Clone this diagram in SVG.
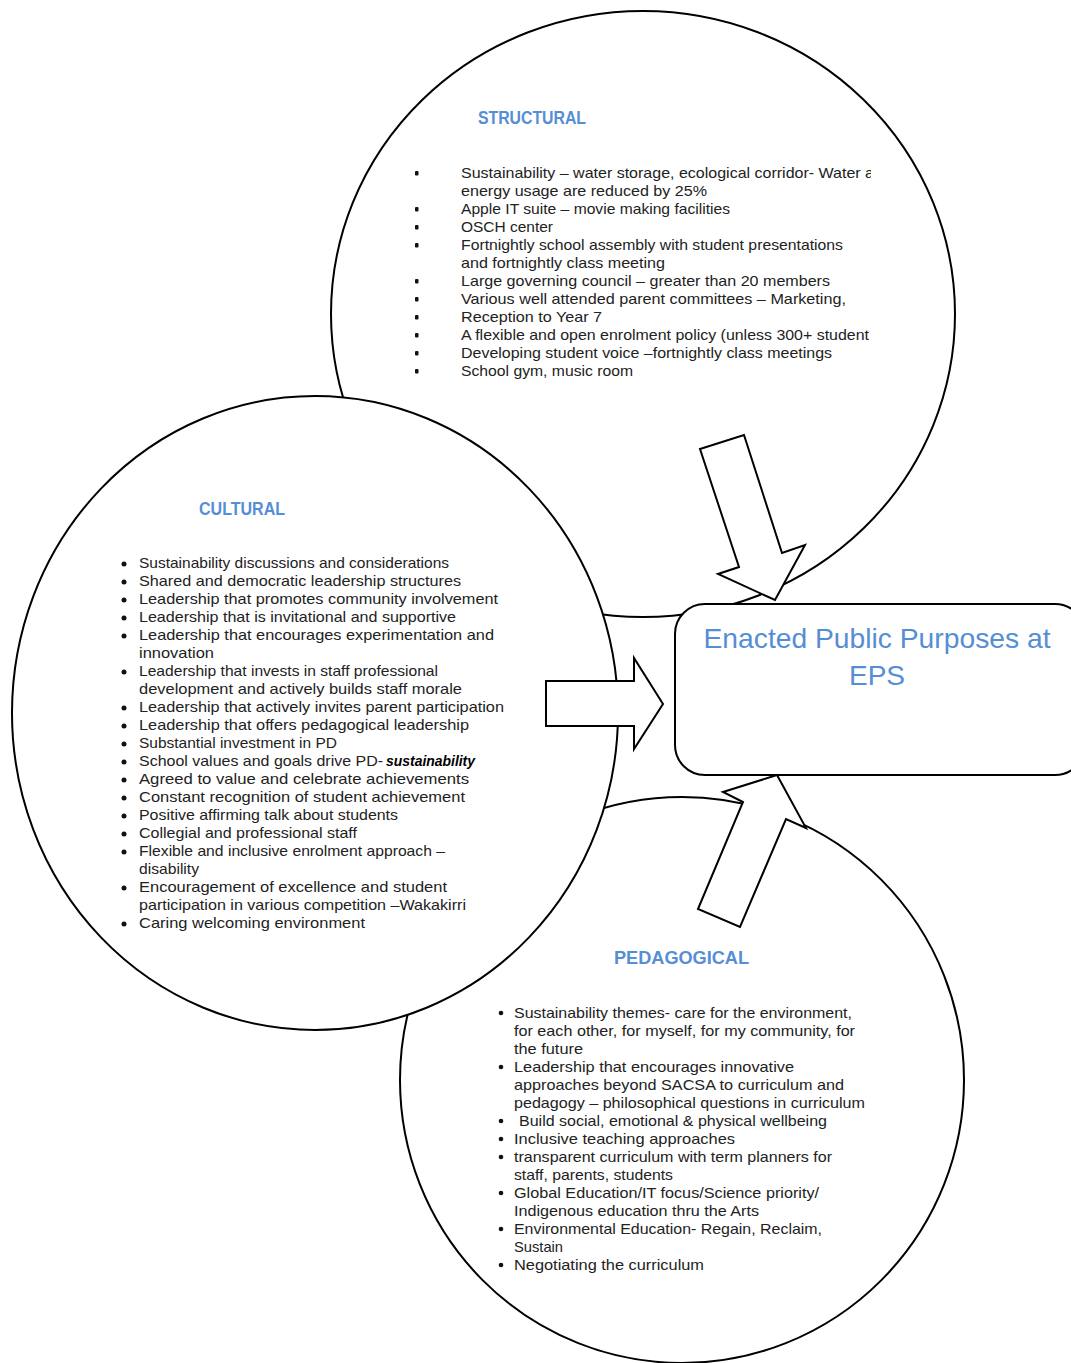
<svg xmlns="http://www.w3.org/2000/svg" width="1071" height="1363" viewBox="0 0 1071 1363">
<style>
.c{fill:#fff;stroke:#000;stroke-width:2}
.h{font-family:"Liberation Sans",Arial,sans-serif;font-weight:bold;font-size:18px;fill:#558ED5}
.t{font-family:"Liberation Sans",Arial,sans-serif;font-size:14.8px;fill:#222}
.ttl{font-family:"Liberation Sans",Arial,sans-serif;font-size:28px;fill:#558ED5;text-anchor:middle}
.b{fill:#111}
.ar{fill:#fff;stroke:#000;stroke-width:2;stroke-linejoin:miter}
</style>
<defs>
<clipPath id="clipS"><rect x="400" y="100" width="471" height="300"/></clipPath>
</defs>
<rect width="1071" height="1363" fill="#fff"/>

<g id="pedagogical">
<ellipse class="c" cx="682" cy="1080" rx="282" ry="283"/>
<text class="h" x="614" y="964" textLength="135" lengthAdjust="spacingAndGlyphs">PEDAGOGICAL</text>
<g class="b">
<circle cx="501" cy="1013" r="2.3"/><circle cx="501" cy="1067" r="2.3"/><circle cx="501" cy="1121" r="2.3"/><circle cx="501" cy="1139" r="2.3"/><circle cx="501" cy="1157" r="2.3"/><circle cx="501" cy="1193" r="2.3"/><circle cx="501" cy="1229" r="2.3"/><circle cx="501" cy="1265" r="2.3"/>
</g>
<g class="t">
<text x="514" y="1018" textLength="338" lengthAdjust="spacingAndGlyphs">Sustainability themes- care for the environment,</text>
<text x="514" y="1036" textLength="341" lengthAdjust="spacingAndGlyphs">for each other, for myself, for my community, for</text>
<text x="514" y="1054" textLength="69" lengthAdjust="spacingAndGlyphs">the future</text>
<text x="514" y="1072" textLength="280" lengthAdjust="spacingAndGlyphs">Leadership that encourages innovative</text>
<text x="514" y="1090" textLength="330" lengthAdjust="spacingAndGlyphs">approaches beyond SACSA to curriculum and</text>
<text x="514" y="1108" textLength="351" lengthAdjust="spacingAndGlyphs">pedagogy – philosophical questions in curriculum</text>
<text x="519" y="1126" textLength="308" lengthAdjust="spacingAndGlyphs">Build social, emotional &amp; physical wellbeing</text>
<text x="514" y="1144" textLength="221" lengthAdjust="spacingAndGlyphs">Inclusive teaching approaches</text>
<text x="514" y="1162" textLength="318" lengthAdjust="spacingAndGlyphs">transparent curriculum with term planners for</text>
<text x="514" y="1180" textLength="159" lengthAdjust="spacingAndGlyphs">staff, parents, students</text>
<text x="514" y="1198" textLength="305" lengthAdjust="spacingAndGlyphs">Global Education/IT focus/Science priority/</text>
<text x="514" y="1216" textLength="245" lengthAdjust="spacingAndGlyphs">Indigenous education thru the Arts</text>
<text x="514" y="1234" textLength="308" lengthAdjust="spacingAndGlyphs">Environmental Education- Regain, Reclaim,</text>
<text x="514" y="1252" textLength="49" lengthAdjust="spacingAndGlyphs">Sustain</text>
<text x="514" y="1270" textLength="190" lengthAdjust="spacingAndGlyphs">Negotiating the curriculum</text>
</g>
</g>

<g id="structural">
<ellipse class="c" cx="643" cy="314" rx="312" ry="303"/>
<text class="h" x="478" y="124" textLength="108" lengthAdjust="spacingAndGlyphs">STRUCTURAL</text>
<g class="b">
<rect x="415" y="171" width="3.5" height="4.5" rx="1"/><rect x="415" y="207" width="3.5" height="4.5" rx="1"/><rect x="415" y="225" width="3.5" height="4.5" rx="1"/><rect x="415" y="243" width="3.5" height="4.5" rx="1"/><rect x="415" y="279" width="3.5" height="4.5" rx="1"/><rect x="415" y="297" width="3.5" height="4.5" rx="1"/><rect x="415" y="315" width="3.5" height="4.5" rx="1"/><rect x="415" y="333" width="3.5" height="4.5" rx="1"/><rect x="415" y="351" width="3.5" height="4.5" rx="1"/><rect x="415" y="369" width="3.5" height="4.5" rx="1"/>
</g>
<g class="t" clip-path="url(#clipS)">
<text x="461" y="178" textLength="413" lengthAdjust="spacingAndGlyphs">Sustainability – water storage, ecological corridor- Water a</text>
<text x="461" y="196" textLength="246" lengthAdjust="spacingAndGlyphs">energy usage are reduced by 25%</text>
<text x="461" y="214" textLength="269" lengthAdjust="spacingAndGlyphs">Apple IT suite – movie making facilities</text>
<text x="461" y="232" textLength="92" lengthAdjust="spacingAndGlyphs">OSCH center</text>
<text x="461" y="250" textLength="382" lengthAdjust="spacingAndGlyphs">Fortnightly school assembly with student presentations</text>
<text x="461" y="268" textLength="204" lengthAdjust="spacingAndGlyphs">and fortnightly class meeting</text>
<text x="461" y="286" textLength="369" lengthAdjust="spacingAndGlyphs">Large governing council – greater than 20 members</text>
<text x="461" y="304" textLength="385" lengthAdjust="spacingAndGlyphs">Various well attended parent committees – Marketing,</text>
<text x="461" y="322" textLength="141" lengthAdjust="spacingAndGlyphs">Reception to Year 7</text>
<text x="461" y="340" textLength="408" lengthAdjust="spacingAndGlyphs">A flexible and open enrolment policy (unless 300+ student</text>
<text x="461" y="358" textLength="371" lengthAdjust="spacingAndGlyphs">Developing student voice –fortnightly class meetings</text>
<text x="461" y="376" textLength="172" lengthAdjust="spacingAndGlyphs">School gym, music room</text>
</g>
</g>

<g id="cultural">
<ellipse class="c" cx="315" cy="713" rx="303" ry="317"/>
<text class="h" x="199" y="515" textLength="86" lengthAdjust="spacingAndGlyphs">CULTURAL</text>
<g class="b">
<circle cx="124" cy="564" r="2.5"/><circle cx="124" cy="582" r="2.5"/><circle cx="124" cy="600" r="2.5"/><circle cx="124" cy="618" r="2.5"/><circle cx="124" cy="636" r="2.5"/><circle cx="124" cy="672" r="2.5"/><circle cx="124" cy="708" r="2.5"/><circle cx="124" cy="726" r="2.5"/><circle cx="124" cy="744" r="2.5"/><circle cx="124" cy="762" r="2.5"/><circle cx="124" cy="780" r="2.5"/><circle cx="124" cy="798" r="2.5"/><circle cx="124" cy="816" r="2.5"/><circle cx="124" cy="834" r="2.5"/><circle cx="124" cy="852" r="2.5"/><circle cx="124" cy="888" r="2.5"/><circle cx="124" cy="924" r="2.5"/>
</g>
<g class="t">
<text x="139" y="568" textLength="310" lengthAdjust="spacingAndGlyphs">Sustainability discussions and considerations</text>
<text x="139" y="586" textLength="322" lengthAdjust="spacingAndGlyphs">Shared and democratic leadership structures</text>
<text x="139" y="604" textLength="359" lengthAdjust="spacingAndGlyphs">Leadership that promotes community involvement</text>
<text x="139" y="622" textLength="317" lengthAdjust="spacingAndGlyphs">Leadership that is invitational and supportive</text>
<text x="139" y="640" textLength="355" lengthAdjust="spacingAndGlyphs">Leadership that encourages experimentation and</text>
<text x="139" y="658" textLength="75" lengthAdjust="spacingAndGlyphs">innovation</text>
<text x="139" y="676" textLength="299" lengthAdjust="spacingAndGlyphs">Leadership that invests in staff professional</text>
<text x="139" y="694" textLength="323" lengthAdjust="spacingAndGlyphs">development and actively builds staff morale</text>
<text x="139" y="712" textLength="365" lengthAdjust="spacingAndGlyphs">Leadership that actively invites parent participation</text>
<text x="139" y="730" textLength="330" lengthAdjust="spacingAndGlyphs">Leadership that offers pedagogical leadership</text>
<text x="139" y="748" textLength="198" lengthAdjust="spacingAndGlyphs">Substantial investment in PD</text>
<text x="139" y="766" textLength="244" lengthAdjust="spacingAndGlyphs">School values and goals drive PD- </text>
<text x="386" y="766" textLength="89" lengthAdjust="spacingAndGlyphs" font-weight="bold" font-style="italic" fill="#000">sustainability</text>
<text x="139" y="784" textLength="330" lengthAdjust="spacingAndGlyphs">Agreed to value and celebrate achievements</text>
<text x="139" y="802" textLength="326" lengthAdjust="spacingAndGlyphs">Constant recognition of student achievement</text>
<text x="139" y="820" textLength="259" lengthAdjust="spacingAndGlyphs">Positive affirming talk about students</text>
<text x="139" y="838" textLength="218" lengthAdjust="spacingAndGlyphs">Collegial and professional staff</text>
<text x="139" y="856" textLength="306" lengthAdjust="spacingAndGlyphs">Flexible and inclusive enrolment approach –</text>
<text x="139" y="874" textLength="60" lengthAdjust="spacingAndGlyphs">disability</text>
<text x="139" y="892" textLength="308" lengthAdjust="spacingAndGlyphs">Encouragement of excellence and student</text>
<text x="139" y="910" textLength="327" lengthAdjust="spacingAndGlyphs">participation in various competition –Wakakirri</text>
<text x="139" y="928" textLength="226" lengthAdjust="spacingAndGlyphs">Caring welcoming environment</text>
</g>
</g>

<g id="enacted">
<rect class="c" x="675" y="604" width="410" height="171" rx="30" ry="30"/>
<text class="ttl" x="877" y="648" textLength="347" lengthAdjust="spacingAndGlyphs">Enacted Public Purposes at</text>
<text class="ttl" x="877" y="685">EPS</text>
</g>

<g id="connectors">
<polygon class="ar" points="700,449 744,435 782,553 805,545 775,600 718,574 739,567"/>
<polygon class="ar" points="546,681 634,681 634,658 663,704 634,749 634,726 546,726"/>
<polygon class="ar" points="698,909 743,802 723,792 777,775 806,828 786,819 740,927"/>
</g>
</svg>
